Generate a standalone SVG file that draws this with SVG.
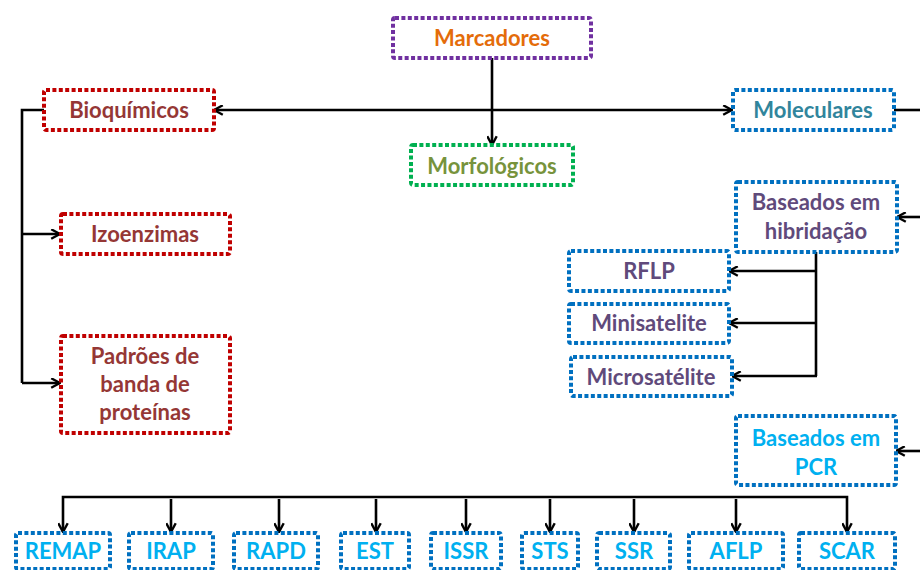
<svg xmlns="http://www.w3.org/2000/svg" width="920" height="570" viewBox="0 0 920 570">
<style>
.box{fill:#fff;stroke-width:4;stroke-dasharray:4 2.4}
.pu{stroke:#7030A0}.gr{stroke:#00B050}.rd{stroke:#C00000}.bl{stroke:#0070C0}
text{font-family:Lato,"Open Sans","Liberation Sans",sans-serif;font-weight:bold;font-size:22px;text-anchor:middle}
.t-or{fill:#E46C0A}.t-ol{fill:#77933C}.t-rd{fill:#953735}.t-te{fill:#31859C}.t-pp{fill:#604A7B}.t-lb{fill:#00B0F0}
.c{fill:none;stroke:#000;stroke-width:2.6}
</style>
<defs>
<marker id="a" viewBox="0 0 11 11" refX="10" refY="5.5" markerWidth="11" markerHeight="11" markerUnits="userSpaceOnUse" orient="auto-start-reverse">
<path d="M1.2,0.8 L10,5.5 L1.2,10.2" fill="none" stroke="#000" stroke-width="2.4"/>
</marker>
</defs>
<g id="connectors">
<path class="c" d="M492,58 V145" marker-end="url(#a)"/>
<path class="c" d="M214,110 H732" marker-start="url(#a)" marker-end="url(#a)"/>
<path class="c" d="M44,110 H22 V383"/>
<path class="c" d="M22,234 H60" marker-end="url(#a)"/>
<path class="c" d="M22,383 H60" marker-end="url(#a)"/>
<path class="c" d="M894,110 H920"/>
<path class="c" d="M920,217 H897" marker-end="url(#a)"/>
<path class="c" d="M920,451 H896" marker-end="url(#a)"/>
<path class="c" d="M816,252 V376"/>
<path class="c" d="M816,271 H729" marker-end="url(#a)"/>
<path class="c" d="M816,323 H729" marker-end="url(#a)"/>
<path class="c" d="M817,376 H732" marker-end="url(#a)"/>
<path class="c" d="M63,532 V497 H847 V532" marker-start="url(#a)" marker-end="url(#a)"/>
<path class="c" d="M171,499 V532" marker-end="url(#a)"/>
<path class="c" d="M279,499 V532" marker-end="url(#a)"/>
<path class="c" d="M376,499 V532" marker-end="url(#a)"/>
<path class="c" d="M466,499 V532" marker-end="url(#a)"/>
<path class="c" d="M550,499 V532" marker-end="url(#a)"/>
<path class="c" d="M634,499 V532" marker-end="url(#a)"/>
<path class="c" d="M736,499 V532" marker-end="url(#a)"/>
</g>
<g id="marcadores"><rect class="box pu" x="393" y="18" width="198" height="40" rx="2"/><text class="t-or" x="492" y="46">Marcadores</text></g>
<g id="morfologicos"><rect class="box gr" x="411" y="145" width="162" height="40" rx="2"/><text class="t-ol" x="492" y="174">Morfológicos</text></g>
<g id="bioquimicos"><rect class="box rd" x="44" y="90" width="170" height="40" rx="2"/><text class="t-rd" x="129" y="118">Bioquímicos</text></g>
<g id="izoenzimas"><rect class="box rd" x="61" y="214" width="169" height="40" rx="2"/><text class="t-rd" x="145" y="242">Izoenzimas</text></g>
<g id="padroes"><rect class="box rd" x="61" y="336" width="169" height="97" rx="2"/><text class="t-rd" x="145" y="364">Padrões de</text><text class="t-rd" x="145" y="392">banda de</text><text class="t-rd" x="145" y="420">proteínas</text></g>
<g id="moleculares"><rect class="box bl" x="733" y="90" width="161" height="40" rx="2"/><text class="t-te" x="813" y="118">Moleculares</text></g>
<g id="hibridacao"><rect class="box bl" x="736" y="182" width="161" height="70" rx="2"/><text class="t-pp" x="816" y="210">Baseados em</text><text class="t-pp" x="816" y="239">hibridação</text></g>
<g id="rflp"><rect class="box bl" x="569" y="251" width="160" height="40" rx="2"/><text class="t-pp" x="649" y="279">RFLP</text></g>
<g id="minisatelite"><rect class="box bl" x="569" y="304" width="160" height="39" rx="2"/><text class="t-pp" x="649" y="331">Minisatelite</text></g>
<g id="microsatelite"><rect class="box bl" x="571" y="357" width="161" height="39" rx="2"/><text class="t-pp" x="651" y="385">Microsatélite</text></g>
<g id="pcr"><rect class="box bl" x="736" y="416" width="160" height="69" rx="2"/><text class="t-lb" x="816" y="446">Baseados em</text><text class="t-lb" x="816" y="475">PCR</text></g>
<g id="remap"><rect class="box bl" x="16" y="533" width="94" height="36" rx="2"/><text class="t-lb" x="63" y="559">REMAP</text></g>
<g id="irap"><rect class="box bl" x="129" y="533" width="84" height="36" rx="2"/><text class="t-lb" x="171" y="559">IRAP</text></g>
<g id="rapd"><rect class="box bl" x="234" y="533" width="84" height="36" rx="2"/><text class="t-lb" x="276" y="559">RAPD</text></g>
<g id="est"><rect class="box bl" x="341" y="533" width="68" height="36" rx="2"/><text class="t-lb" x="375" y="559">EST</text></g>
<g id="issr"><rect class="box bl" x="431" y="533" width="70" height="36" rx="2"/><text class="t-lb" x="466" y="559">ISSR</text></g>
<g id="sts"><rect class="box bl" x="522" y="533" width="56" height="36" rx="2"/><text class="t-lb" x="550" y="559">STS</text></g>
<g id="ssr"><rect class="box bl" x="597" y="533" width="73" height="36" rx="2"/><text class="t-lb" x="634" y="559">SSR</text></g>
<g id="aflp"><rect class="box bl" x="689" y="533" width="94" height="36" rx="2"/><text class="t-lb" x="736" y="559">AFLP</text></g>
<g id="scar"><rect class="box bl" x="799" y="533" width="96" height="36" rx="2"/><text class="t-lb" x="847" y="559">SCAR</text></g>
</svg>
